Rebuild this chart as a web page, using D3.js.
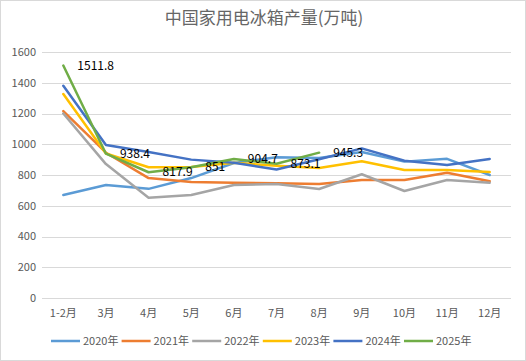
<!DOCTYPE html>
<html>
<head>
<meta charset="utf-8">
<script src="https://cdn.jsdelivr.net/npm/d3@7"></script>
<style>
  body { margin: 0; background: #fff; }
  svg { display: block; font-family: "Noto Sans CJK SC", "Noto Sans", sans-serif; }
</style>
</head>
<body>
<div id="chart"></div>
<script>
// months along the x axis
const months = ["1-2月", "3月", "4月", "5月", "6月", "7月", "8月", "9月", "10月", "11月", "12月"]
const years = ["2020年", "2021年", "2022年", "2023年", "2024年", "2025年"]
const yTicks = [0, 200, 400, 600, 800, 1000, 1200, 1400, 1600]

// values (万吨)
const v2020 = [670, 735, 710, 780, 878, 915, 910, 950, 887, 905, 800]
const v2021 = [1216, 945, 780, 755, 750, 746, 742, 767, 768, 815, 760]
const v2022 = [1200, 871, 652, 670, 735, 742, 709, 805, 696, 767, 750]
const v2023 = [1327, 940, 850, 852, 880, 860, 845, 890, 832, 832, 820]
const v2024 = [1380, 995, 950, 900, 880, 836, 902, 973, 893, 865, 904]
const v2025 = [1511.8, 938.4, 817.9, 851, 904.7, 873.1, 945.3]

const colors = ["#5B9BD5", "#ED7D31", "#A5A5A5", "#FFC000", "#4472C4", "#70AD47"]
const series = [v2020, v2021, v2022, v2023, v2024, v2025]

const width = 526, height = 361
const margin = { top: 52, right: 15, bottom: 63, left: 42 }

const svg = d3.select("#chart").append("svg")
    .attr("width", width)
    .attr("height", height)

svg.append("rect")
    .attr("x", 0.5).attr("y", 0.5)
    .attr("width", width - 1).attr("height", height - 1)
    .attr("fill", "#fff")
    .attr("stroke", "#d9d9d9")

svg.append("text")
    .attr("x", width / 2 + 1)
    .attr("y", 24)
    .attr("text-anchor", "middle")
    .attr("fill", "#666")
    .attr("font-size", 17)
    .text("中国家用电冰箱产量(万吨)")

const x = d3.scaleBand()
    .domain(months)
    .range([margin.left, width - margin.right])

const y = d3.scaleLinear()
    .domain([0, 1600])
    .range([height - margin.bottom, margin.top])

// grid lines
svg.append("g")
  .selectAll("line")
  .data(yTicks)
  .enter().append("line")
    .attr("x1", margin.left)
    .attr("x2", width - margin.right)
    .attr("y1", d => Math.round(y(d)) + 0.5)
    .attr("y2", d => Math.round(y(d)) + 0.5)
    .attr("stroke", "#d9d9d9")

// y axis labels
svg.append("g")
  .selectAll("text")
  .data(yTicks)
  .enter().append("text")
    .attr("x", 36)
    .attr("y", d => y(d))
    .attr("dy", "0.35em")
    .attr("text-anchor", "end")
    .attr("fill", "#595959")
    .attr("font-size", 11)
    .text(d => d)

// x axis labels
svg.append("g")
  .selectAll("text")
  .data(months)
  .enter().append("text")
    .attr("x", d => x(d) + x.bandwidth() / 2)
    .attr("y", 317)
    .attr("text-anchor", "middle")
    .attr("fill", "#595959")
    .attr("font-size", 11)
    .text(d => d)

const line = d3.line()
    .x((d, i) => x(months[i]) + x.bandwidth() / 2)
    .y(d => y(d))

svg.append("g")
  .selectAll("path")
  .data(series)
  .enter().append("path")
    .attr("d", line)
    .attr("fill", "none")
    .attr("stroke", (d, i) => colors[i])
    .attr("stroke-width", 2.5)
    .attr("stroke-linejoin", "round")
    .attr("stroke-linecap", "round")

// data labels for 2025
svg.append("g")
  .selectAll("text")
  .data(v2025)
  .enter().append("text")
    .attr("x", (d, i) => x(months[i]) + x.bandwidth() / 2 + 14)
    .attr("y", d => y(d))
    .attr("dy", "0.35em")
    .attr("fill", "#000")
    .attr("font-size", 12)
    .text(d => d)

// legend
const legend = svg.append("g")
  .selectAll("g")
  .data(years)
  .enter().append("g")
    .attr("transform", (d, i) => "translate(" + (51 + i * 70.6) + ",341)")

legend.append("line")
    .attr("x1", 0).attr("x2", 29)
    .attr("stroke", (d, i) => colors[i])
    .attr("stroke-width", 2.5)

legend.append("text")
    .attr("x", 32)
    .attr("dy", "0.35em")
    .attr("fill", "#595959")
    .attr("font-size", 11)
    .text(d => d)
</script>
</body>
</html>
